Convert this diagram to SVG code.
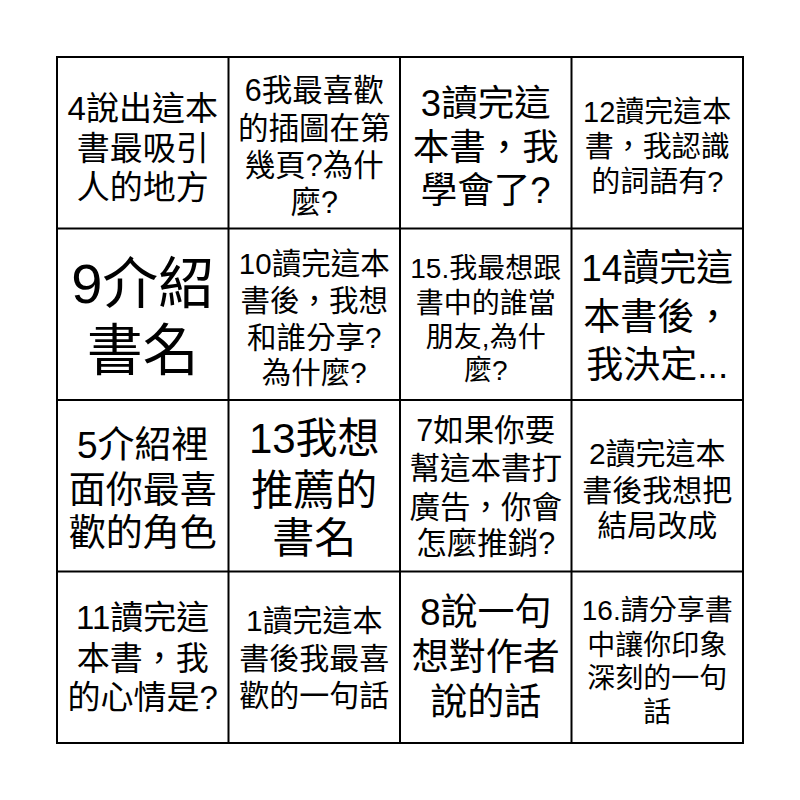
<svg xmlns="http://www.w3.org/2000/svg" width="800" height="800" viewBox="0 0 800 800">
<style>
.cell{fill:#fff;stroke:#000;stroke-width:2}
text{font-family:"Liberation Sans","Noto Sans CJK TC",sans-serif;fill:#000;text-anchor:middle;dominant-baseline:central}
</style>
<rect x="0" y="0" width="800" height="800" fill="#fff"/>
<g id="grid">
<rect class="cell" x="57" y="57" width="686" height="686"/>
<line x1="228.5" y1="57" x2="228.5" y2="743" stroke="#000" stroke-width="2"/>
<line x1="400" y1="57" x2="400" y2="743" stroke="#000" stroke-width="2"/>
<line x1="571.5" y1="57" x2="571.5" y2="743" stroke="#000" stroke-width="2"/>
<line x1="57" y1="228.5" x2="743" y2="228.5" stroke="#000" stroke-width="2"/>
<line x1="57" y1="400" x2="743" y2="400" stroke="#000" stroke-width="2"/>
<line x1="57" y1="571.5" x2="743" y2="571.5" stroke="#000" stroke-width="2"/>
</g>
<g id="c4" font-size="33"><text x="142.75" y="108">4說出這本</text><text x="142.75" y="148">書最吸引</text><text x="142.75" y="187">人的地方</text></g>
<g id="c6" font-size="30.5"><text x="314.25" y="90">6我最喜歡</text><text x="314.25" y="128">的插圖在第</text><text x="314.25" y="165">幾頁?為什</text><text x="314.25" y="202">麼?</text></g>
<g id="c3" font-size="36.5"><text x="485.75" y="103">3讀完這</text><text x="485.75" y="147">本書，我</text><text x="485.75" y="190">學會了?</text></g>
<g id="c12" font-size="29"><text x="657.25" y="112">12讀完這本</text><text x="657.25" y="147">書，我認識</text><text x="657.25" y="182">的詞語有?</text></g>
<g id="c9" font-size="56"><text x="142.75" y="283">9介紹</text><text x="142.75" y="350">書名</text></g>
<g id="c10" font-size="29.5"><text x="314.25" y="263">10讀完這本</text><text x="314.25" y="300">書後，我想</text><text x="314.25" y="337">和誰分享?</text><text x="314.25" y="372">為什麼?</text></g>
<g id="c15" font-size="28"><text x="485.75" y="268">15.我最想跟</text><text x="485.75" y="303">書中的誰當</text><text x="485.75" y="337">朋友,為什</text><text x="485.75" y="370">麼?</text></g>
<g id="c14" font-size="37"><text x="657.25" y="268">14讀完這</text><text x="657.25" y="317">本書後，</text><text x="657.25" y="365">我決定...</text></g>
<g id="c5" font-size="37"><text x="142.75" y="445">5介紹裡</text><text x="142.75" y="490">面你最喜</text><text x="142.75" y="533">歡的角色</text></g>
<g id="c13" font-size="42"><text x="314.25" y="438">13我想</text><text x="314.25" y="490">推薦的</text><text x="314.25" y="538">書名</text></g>
<g id="c7" font-size="30.5"><text x="485.75" y="430">7如果你要</text><text x="485.75" y="468">幫這本書打</text><text x="485.75" y="507">廣告，你會</text><text x="485.75" y="543">怎麼推銷?</text></g>
<g id="c2" font-size="30"><text x="657.25" y="453">2讀完這本</text><text x="657.25" y="490">書後我想把</text><text x="657.25" y="525">結局改成</text></g>
<g id="c11" font-size="33"><text x="142.75" y="617">11讀完這</text><text x="142.75" y="658">本書，我</text><text x="142.75" y="697">的心情是?</text></g>
<g id="c1" font-size="30"><text x="314.25" y="620">1讀完這本</text><text x="314.25" y="658">書後我最喜</text><text x="314.25" y="695">歡的一句話</text></g>
<g id="c8" font-size="37"><text x="485.75" y="612">8說一句</text><text x="485.75" y="657">想對作者</text><text x="485.75" y="702">說的話</text></g>
<g id="c16" font-size="28"><text x="657.25" y="610">16.請分享書</text><text x="657.25" y="645">中讓你印象</text><text x="657.25" y="678">深刻的一句</text><text x="657.25" y="712">話</text></g>
</svg>
